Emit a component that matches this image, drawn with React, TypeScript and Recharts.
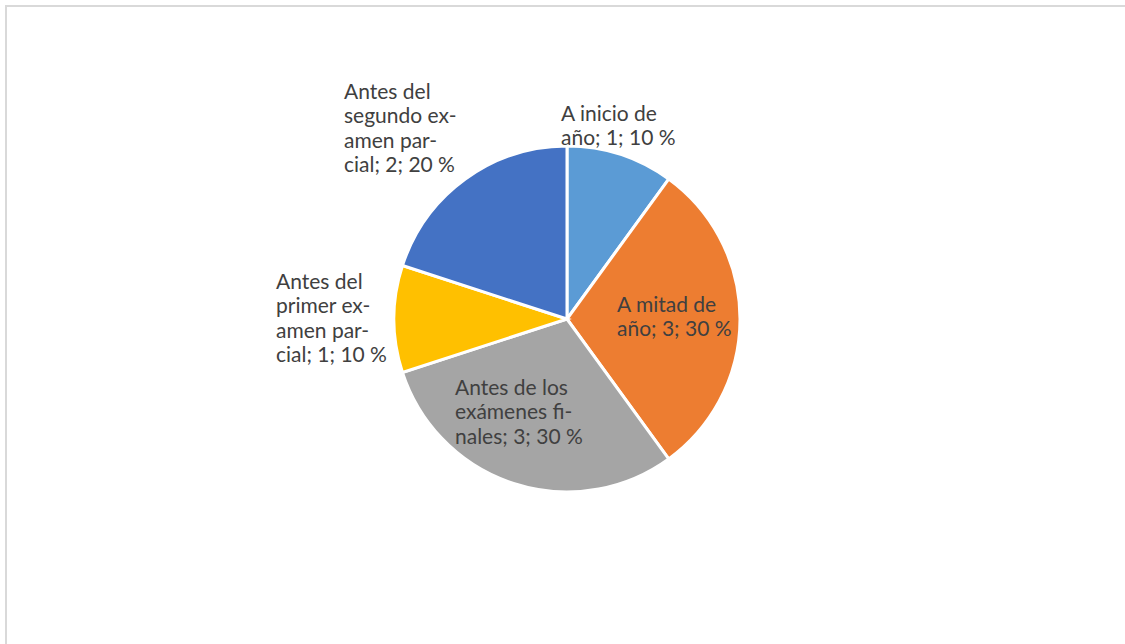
import { PieChart, Pie, Cell } from 'recharts';

const categories = [
  'A inicio de año',
  'A mitad de año',
  'Antes de los exámenes finales',
  'Antes del primer examen parcial',
  'Antes del segundo examen parcial',
];

const values = [1, 3, 3, 1, 2];

// how the labels wrap in the original (hyphenated)
const labelLines = [
  ['A inicio de', 'año; 1; 10 %'],
  ['A mitad de', 'año; 3; 30 %'],
  ['Antes de los', 'exámenes fi-', 'nales; 3; 30 %'],
  ['Antes del', 'primer ex-', 'amen par-', 'cial; 1; 10 %'],
  ['Antes del', 'segundo ex-', 'amen par-', 'cial; 2; 20 %'],
];

const COLORS = ['#5B9BD5', '#ED7D31', '#A5A5A5', '#FFC000', '#4472C4'];

// label box offsets from the pie centre (left edge, first line middle)
const LABEL_OFFSETS = [
  [-6, -205],
  [50, -14],
  [-112, 69],
  [-291, -37],
  [-223, -227],
];

const data = categories.map((name, i) => ({ name, value: values[i] }));

const LINE_H = 24.4;

const renderLabel = ({ cx, cy, index }: any) => {
  const [dx, dy] = LABEL_OFFSETS[index];
  const x = cx + dx;
  const y = cy + dy + 7;
  return (
    <text
      x={x}
      y={y}
      fill="#404040"
      fontSize={21}
      fontFamily="Lato, 'Noto Sans', sans-serif"
      textAnchor="start"
    >
      {labelLines[index].map((line, i) => (
        <tspan key={i} x={x} dy={i === 0 ? 0 : LINE_H}>
          {line}
        </tspan>
      ))}
    </text>
  );
};

export default function App() {
  return (
    <div
      style={{
        position: 'fixed',
        left: 0,
        top: 0,
        width: 1125,
        height: 644,
        background: '#fff',
        overflow: 'hidden',
      }}
    >
      <div
        style={{
          position: 'absolute',
          left: 5,
          top: 5,
          width: 1130,
          height: 650,
          borderTop: '2px solid #d9d9d9',
          borderLeft: '2px solid #d9d9d9',
        }}
      />
      <PieChart
        width={1125}
        height={644}
        margin={{ top: 0, right: 0, bottom: 0, left: 0 }}
        style={{ position: 'absolute', left: 0, top: 0 }}
      >
        <Pie
          data={data}
          dataKey="value"
          nameKey="name"
          cx={567}
          cy={319}
          outerRadius={173}
          startAngle={90}
          endAngle={-270}
          stroke="#fff"
          strokeWidth={3}
          label={renderLabel}
          labelLine={false}
          isAnimationActive={false}
        >
          {data.map((d, i) => (
            <Cell key={d.name} fill={COLORS[i]} />
          ))}
        </Pie>
      </PieChart>
    </div>
  );
}
